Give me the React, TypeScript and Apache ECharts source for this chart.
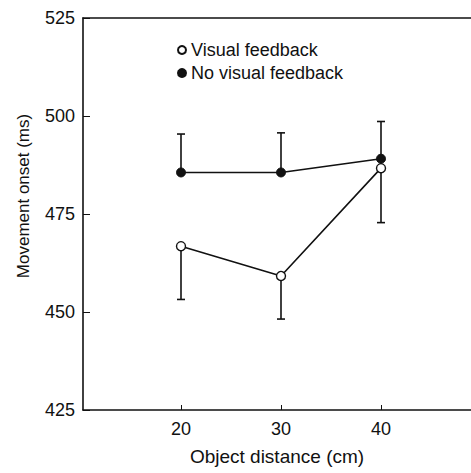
import React, { useEffect, useRef } from "react";
import * as echarts from "echarts";

const distances = [20, 30, 40];
const visualMean = [466.8, 459.2, 486.7];
const visualLower = [453.2, 448.2, 472.8];
const noVisualMean = [485.6, 485.6, 489.1];
const noVisualUpper = [495.4, 495.7, 498.6];
const yTicks = [425, 450, 475, 500, 525];

const FONT = "'Liberation Sans', Arial, Helvetica, sans-serif";

export default function App() {
  const ref = useRef<HTMLDivElement>(null);
  useEffect(() => {
    if (!ref.current) return;
    const chart = echarts.init(ref.current, null, { renderer: "svg" });

    const errRender = (params: any, api: any) => {
      const x = api.value(0);
      const a = api.coord([x, api.value(1)]);
      const b = api.coord([x, api.value(2)]);
      const cap = 4;
      const style = { stroke: "#111", lineWidth: 1.6 };
      return {
        type: "group",
        children: [
          { type: "line", shape: { x1: a[0], y1: a[1], x2: b[0], y2: b[1] }, style },
          { type: "line", shape: { x1: b[0] - cap, y1: b[1], x2: b[0] + cap, y2: b[1] }, style },
        ],
      };
    };

    chart.setOption({
      animation: false,
      textStyle: { fontFamily: FONT },
      grid: { left: 83, right: 0, top: 18, bottom: 63 },
      legend: {
        orient: "vertical",
        left: 172,
        top: 36,
        itemWidth: 8,
        itemHeight: 8,
        itemGap: 5,
        icon: "circle",
        textStyle: { fontFamily: FONT, fontSize: 18, lineHeight: 18, color: "#111" },
        data: ["Visual feedback", "No visual feedback"],
      },
      xAxis: [
        {
          type: "value",
          min: 10.2,
          max: 49,
          position: "bottom",
          name: "Object distance (cm)",
          nameLocation: "middle",
          nameGap: 37,
          nameTextStyle: { fontSize: 19, color: "#111", fontFamily: FONT },
          axisLine: { lineStyle: { color: "#111", width: 1.6 } },
          axisTick: { inside: true, length: 5, customValues: distances, lineStyle: { color: "#111" } },
          axisLabel: { customValues: distances, fontSize: 18, color: "#111", margin: 10, fontFamily: FONT },
          splitLine: { show: false },
        },
        {
          type: "value",
          min: 10.2,
          max: 49,
          position: "top",
          axisLine: { show: true, lineStyle: { color: "#111", width: 1.6 } },
          axisTick: { show: false },
          axisLabel: { show: false },
          splitLine: { show: false },
        },
      ],
      yAxis: {
        type: "value",
        min: yTicks[0],
        max: yTicks[yTicks.length - 1],
        interval: 25,
        name: "Movement onset (ms)",
        nameLocation: "middle",
        nameGap: 51,
        nameTextStyle: { fontSize: 17, color: "#111", fontFamily: FONT, padding: [0, 0, 0, 36] },
        axisLine: { show: true, lineStyle: { color: "#111", width: 1.6 } },
        axisTick: { show: true, inside: true, length: 7, lineStyle: { color: "#111" } },
        axisLabel: { fontSize: 18, color: "#111", margin: 8, fontFamily: FONT },
        splitLine: { show: false },
      },
      series: [
        {
          type: "custom",
          name: "errVisual",
          renderItem: errRender,
          data: distances.map((d, i) => [d, visualMean[i], visualLower[i]]),
          z: 1,
        },
        {
          type: "custom",
          name: "errNoVisual",
          renderItem: errRender,
          data: distances.map((d, i) => [d, noVisualMean[i], noVisualUpper[i]]),
          z: 1,
        },
        {
          type: "line",
          name: "Visual feedback",
          data: distances.map((d, i) => [d, visualMean[i]]),
          symbol: "circle",
          symbolSize: 9,
          lineStyle: { color: "#111", width: 1.6 },
          itemStyle: { color: "#fff", borderColor: "#111", borderWidth: 1.4 },
          z: 3,
        },
        {
          type: "line",
          name: "No visual feedback",
          data: distances.map((d, i) => [d, noVisualMean[i]]),
          symbol: "circle",
          symbolSize: 9,
          lineStyle: { color: "#111", width: 1.6 },
          itemStyle: { color: "#111", borderColor: "#111", borderWidth: 1 },
          z: 3,
        },
      ],
    });
    return () => chart.dispose();
  }, []);
  return (
    <div
      ref={ref}
      style={{ position: "absolute", left: 0, top: 0, width: 471, height: 473 }}
    />
  );
}
